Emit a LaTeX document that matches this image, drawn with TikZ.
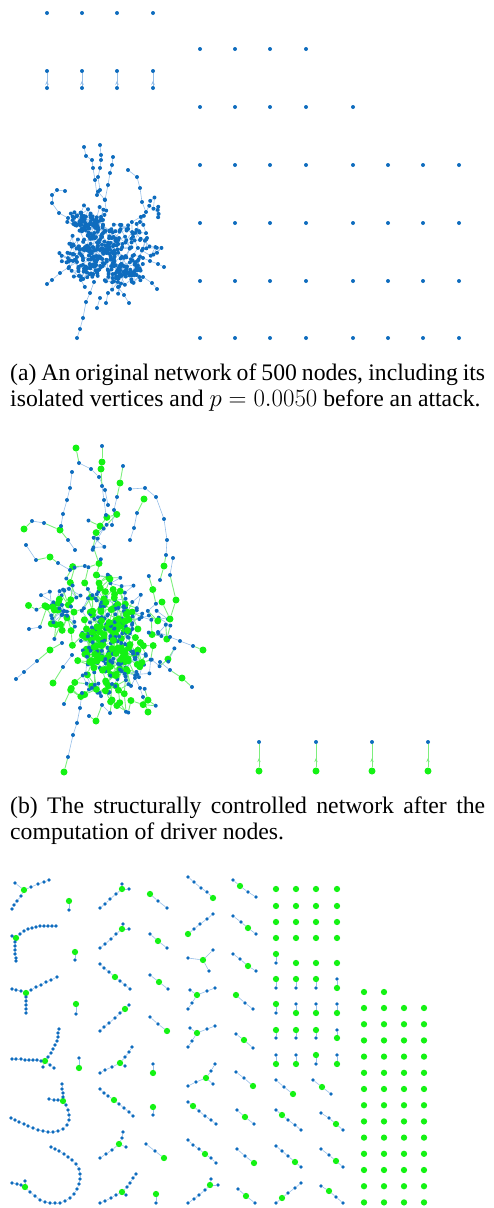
\documentclass[tikz,border=0pt]{standalone}
\usepackage{fontspec}
\setmainfont{Liberation Serif}
\usetikzlibrary{backgrounds,arrows.meta,decorations.markings}
\definecolor{nblue}{RGB}{14,108,190}
\definecolor{ngreen}{RGB}{20,242,20}
\definecolor{eblue}{RGB}{150,190,232}
\definecolor{egreen}{RGB}{125,238,125}
\newcommand\capfont{\fontsize{23.7}{26}\selectfont}
\def\gedges{0}
\def\pcl{b}
\def\edgelist{}
\newcommand\addedge[3]{\xdef\edgelist{\unexpanded\expandafter{\edgelist}\noexpand\draw[#1] (#2) -- (#3);}}
% chain starting at an existing node
\newcommand\arm[3]{%
  \xdef\pcl{b}%
  \foreach \x/\y/\cl [count=\ii] in {#3}{%
    \node[n\cl] (#1-\ii) at (\x,\y) {};%
    \pgfmathtruncatemacro\jj{\ii-1}%
    \ifnum\ii=1 \def\prv{#2}\else\edef\prv{#1-\jj}\fi
    \def\es{eb}%
    \ifnum\gedges=1 \if g\cl\def\es{eg}\fi\if g\pcl\def\es{eg}\fi\fi
    \addedge{\es}{\prv}{#1-\ii}%
    \xdef\pcl{\cl}%
  }}
% standalone chain
\newcommand\chn[2]{%
  \xdef\pcl{b}%
  \foreach \x/\y/\cl [count=\ii] in {#2}{%
    \node[n\cl] (#1-\ii) at (\x,\y) {};%
    \ifnum\ii>1
      \pgfmathtruncatemacro\jj{\ii-1}%
      \def\es{eb}%
      \ifnum\gedges=1 \if g\cl\def\es{eg}\fi\if g\pcl\def\es{eg}\fi\fi
      \addedge{\es}{#1-\jj}{#1-\ii}%
    \fi
    \xdef\pcl{\cl}%
  }}
% random walk cluster
\newcommand\rw[4]{%
  \xdef\wx{#2}\xdef\wy{#3}\xdef\wg{0}%
  \node[nb] (#1-0) at (\wx,\wy) {};%
  \foreach \k in {1,...,#4}{%
    \pgfmathtruncatemacro\km{\k-1}%
    \pgfmathsetmacro\ang{360*rnd}%
    \pgfmathsetmacro\nx{\wx+\sx*cos(\ang)+\pull*(\cx-\wx)}%
    \pgfmathsetmacro\ny{\wy+\sy*sin(\ang)+\pull*(\cy-\wy)}%
    \pgfmathtruncatemacro\isg{rnd<\pg}%
    \ifnum\isg=1 \node[ng] (#1-\k) at (\nx,\ny) {};\else \node[nb] (#1-\k) at (\nx,\ny) {};\fi
    \pgfmathtruncatemacro\egf{\isg+\wg}%
    \ifnum\egf>0 \addedge{eg}{#1-\km}{#1-\k}\else \addedge{eb}{#1-\km}{#1-\k}\fi
    \xdef\wx{\nx}\xdef\wy{\ny}\xdef\wg{\isg}%
  }}
\begin{document}
\begin{tikzpicture}[x=1pt,y=-1pt,
  nb/.style={circle,fill=nblue,draw=none,inner sep=0pt,minimum size=4pt},
  ng/.style={circle,fill=ngreen,draw=none,inner sep=0pt,minimum size=7pt},
  eb/.style={draw=eblue,line width=0.6pt},
  eg/.style={draw=egreen,line width=0.9pt},
  upmark/.style={postaction={decorate},decoration={markings,
     mark=at position 0.4 with {\arrow{Stealth[length=4pt,width=3.5pt]}}}},
  captext/.style={anchor=base west,inner sep=0pt,font=\capfont}]
\useasboundingbox (0,0) rectangle (494,1208);
\pgfmathsetseed{20}

% ---------------- panel (a) ----------------
\foreach \x [count=\ii] in {47,82,117,153}{
  \node[nb] (ai\ii) at (\x,13) {};
  \node[nb] (apt\ii) at (\x,71) {};
  \node[nb] (apb\ii) at (\x,88) {};
  \addedge{eb,upmark}{apb\ii}{apt\ii}
}
\foreach \y [count=\rr] in {49,107,165,223,281,338}{
  \foreach \x [count=\cc] in {200,235,270,306,353,388,423,459}{
    \pgfmathtruncatemacro\ok{(\rr==1 && \cc<5) || (\rr==2 && \cc<6) || \rr>2}
    \ifnum\ok=1 \node[nb] (ag\rr-\cc) at (\x,\y) {};\fi
  }}
\def\cx{104}\def\cy{248}\def\sx{8}\def\sy{9}\def\pull{0.045}\def\pg{0}
\foreach \w in {1,...,18}{
  \pgfmathsetmacro\sxo{\cx+38*(rnd+rnd+rnd-1.5)}
  \pgfmathsetmacro\syo{\cy+48*(rnd+rnd+rnd-1.5)}
  \rw{A\w}{\sxo}{\syo}{24}
}
\chn{ta1}{77/338/b,80/329/b,83/318/b,86/302/b,90/293/b,94/282/b}
\chn{ta2}{47/284/b,52/280/b,60/273/b,69/267/b,77/262/b}
\chn{ta3}{164/267/b,158/264/b,150/261/b,143/258/b,134/255/b}
\chn{ta4}{157/289/b,152/283/b,143/277/b,134/272/b}
\chn{ta5}{84/147/b,86/156/b,92/160/b,93/168/b,95/180/b,97/195/b}
\chn{ta6}{100/145/b,101/155/b,101/160/b,100/168/b,98/177/b,100/190/b}
\chn{ta7}{113/157/b,112/165/b,110/173/b,108/185/b,105/200/b}
\chn{ta8}{65/191/b,57/190/b,52/195/b,52/203/b,59/213/b,68/218/b,75/225/b}
\chn{ta9}{97/308/b,100/298/b}
\chn{ta10}{129/303/b,124/295/b,118/287/b}
\chn{ta11}{128/170/b,137/177/b,140/188/b,142/202/b,146/212/b,140/222/b}
\chn{ta12}{147/238/b,140/240/b}
\chn{ta13}{106/303/b,108/293/b}

\node[captext] (capa1) at (10,380) {\hbox to 475pt{(a) An original network of 500 nodes, including its}};
\node[captext] (capa2) at (10,406) {isolated vertices and $p=0.0050$ before an attack.};

% ---------------- panel (b) ----------------
\def\cx{108}\def\cy{622}\def\sx{11}\def\sy{15}\def\pull{0.035}\def\pg{0.42}\def\gedges{1}
\foreach \w in {1,...,16}{
  \pgfmathsetmacro\sxo{\cx+60*(rnd+rnd+rnd-1.5)}
  \pgfmathsetmacro\syo{\cy+95*(rnd+rnd+rnd-1.5)}
  \rw{B\w}{\sxo}{\syo}{26}
}
\chn{tb1}{76/448/g,79/463/b,91/469/b,99/477/b,105/490/b,108/505/b}
\chn{tb2}{102/446/b,102/462/g,101/469/g,102/486/b,104/500/b,106/515/b}
\chn{tb3}{123/466/b,120/483/g,117/497/b,114/510/b,112/525/b}
\chn{tb4}{24/529/g,32/521/b,44/523/b,60/530/g,68/540/b,75/550/b}
\chn{tb5}{26/545/b,36/560/b,50/557/g,58/563/b,70/570/b}
\chn{tb6}{72/472/b,70/488/b,67/500/b,63/514/b,61/526/b}
\chn{tb7}{130/489/b,145/488/b,156/497/b,164/519/b,167/540/b,166/555/b,164/566/g,160/580/b}
\chn{tb8}{144/499/g,137/513/b,134/528/b,130/540/b}
\chn{tb9}{16/679/b,24/672/b,37/661/b,50/650/g,62/643/b}
\chn{tb10}{64/772/g,68/757/b,73/735/b,77/723/b,80/708/b,82/693/b}
\chn{tb11}{203/650/g,193/646/b,180/641/b,170/637/b,158/632/b}
\chn{tb12}{192/687/b,182/678/g,170/670/b,160/662/b}
\chn{tb13}{148/712/g,143/697/b,140/688/b,135/678/b}
\chn{tb14}{53/683/g,63/667/b,72/655/b}
\chn{tb15}{29/629/b,40/627/b,47/607/g,53/607/g,62/605/b}
\chn{tb16}{89/716/b,96/721/g,102/705/b,110/713/b,112/700/g}
\chn{tb17}{173/558/b,170/575/b,176/600/g,170/619/g,162/602/g}
\foreach \x [count=\ii] in {259,316,372,428}{
  \node[nb] (bpt\ii) at (\x,742) {};
  \node[ng] (bpb\ii) at (\x,771) {};
  \addedge{eg,upmark}{bpb\ii}{bpt\ii}
}
\node[captext] (capb1) at (10,813) {\hbox to 475pt{(b) The structurally controlled network after the}};
\node[captext] (capb2) at (10,839) {computation of driver nodes.};

% ---------------- panel (c) ----------------
\def\gedges{0}
\begin{scope}[nb/.style={circle,fill=nblue,draw=none,inner sep=0pt,minimum size=3.8pt},
  ng/.style={circle,fill=ngreen,draw=none,inner sep=0pt,minimum size=6.3pt}]
% column 1
\node[ng] (c1) at (24,890) {};
\arm{c1a}{c1}{15/883/b}
\arm{c1b}{c1}{31/887/b,38/884/b,44/882/b,49/880/b}
\arm{c1c}{c1}{21/896/b,17/901/b,14/905/b,12/909/b}
\node[ng] (c2) at (16,938) {};
\arm{c2a}{c2}{12/936/b}
\arm{c2b}{c2}{20/934/b,24/931/b,28/929/b,32/928/b,36/927/b,40/926/b,44/926/b,48/926/b,52/926/b,56/926/b}
\arm{c2c}{c2}{15/942/b,15/946/b,15/950/b,15/954/b,16/958/b,16/961/b}
\node[ng] (c3) at (26,993) {};
\arm{c3a}{c3}{21/991/b,16/990/b,12/989/b}
\arm{c3b}{c3}{31/990/b,36/987/b,41/985/b,46/982/b,51/980/b,57/977/b}
\arm{c3c}{c3}{26/997/b,26/1001/b,26/1005/b,26/1009/b,26/1013/b}
\node[ng] (c4) at (45,1061) {};
\arm{c4a}{c4}{41/1061/b,37/1060/b,33/1060/b,29/1060/b,25/1060/b,21/1059/b,16/1059/b,12/1059/b}
\arm{c4b}{c4}{48/1057/b,51/1053/b,53/1049/b,55/1045/b,57/1041/b,58/1037/b,58/1033/b,59/1029/b}
\arm{c4c}{c4}{43/1067/b}
\arm{c4d}{c4}{50/1065/b,54/1068/b}
\node[ng] (c5) at (63,1101) {};
\arm{c5a}{c5}{58/1100/b,54/1100/b,49/1099/b}
\arm{c5b}{c5}{63/1097/b,63/1093/b,62/1089/b,62/1084/b}
\arm{c5c}{c5}{66/1105/b,68/1110/b,69/1115/b,69/1120/b,67/1125/b,63/1129/b,58/1131/b,53/1132/b,48/1132/b,43/1131/b,38/1130/b,33/1128/b,28/1126/b,24/1124/b,19/1122/b,15/1120/b,11/1118/b}
\node[ng] (c6) at (25,1187) {};
\arm{c6a}{c6}{21/1185/b,17/1184/b,12/1183/b}
\arm{c6b}{c6}{25/1181/b}
\arm{c6c}{c6}{30/1192/b,35/1196/b,40/1200/b,45/1202/b,50/1203/b,55/1203/b,60/1203/b,65/1201/b,70/1198/b,74/1194/b,77/1189/b,79/1184/b,80/1179/b,80/1174/b,79/1169/b,76/1164/b,72/1160/b,68/1157/b,64/1154/b,59/1151/b,55/1149/b,51/1147/b}
% column 2
\chn{p1}{69/901/g,69/910/b}
\chn{p2}{75/952/g,75/960/b}
\chn{p3}{76/1004/g,76/1014/b}
\chn{p4}{79/1058/b,79/1068/g}
% column 3
\node[ng] (s1) at (122,889) {};
\arm{s1a}{s1}{122/884/b}\arm{s1b}{s1}{129/889/b}\arm{s1c}{s1}{116/894/b,110/899/b,105/904/b,100/908/b}
\node[ng] (s2) at (122,929) {};
\arm{s2a}{s2}{123/924/b}\arm{s2b}{s2}{129/929/b}\arm{s2c}{s2}{116/934/b,111/939/b,105/944/b,100/948/b}
\node[ng] (s3) at (115,977) {};
\arm{s3a}{s3}{109/972/b,104/968/b,100/964/b}\arm{s3b}{s3}{120/981/b,125/985/b,130/989/b}
\node[ng] (s4) at (125,1009) {};
\arm{s4a}{s4}{129/1005/b}\arm{s4b}{s4}{120/1013/b,115/1018/b,109/1023/b,104/1027/b,100/1031/b}
\node[ng] (s5) at (120,1063) {};
\arm{s5a}{s5}{125/1057/b,129/1052/b,132/1047/b}\arm{s5b}{s5}{125/1066/b}\arm{s5c}{s5}{112/1067/b,105/1070/b,100/1073/b}
\node[ng] (s6) at (114,1100) {};
\arm{s6a}{s6}{108/1096/b,104/1093/b,100/1089/b}\arm{s6b}{s6}{119/1104/b,124/1108/b,129/1112/b,133/1116/b}
\node[ng] (s7) at (119,1144) {};
\arm{s7a}{s7}{122/1138/b,123/1132/b}\arm{s7b}{s7}{126/1147/b}\arm{s7c}{s7}{112/1150/b,106/1154/b,100/1158/b}
\node[ng] (s8) at (122,1192) {};
\arm{s8a}{s8}{127/1187/b,130/1183/b,133/1178/b,136/1174/b}\arm{s8b}{s8}{126/1195/b}\arm{s8c}{s8}{116/1195/b,111/1198/b,105/1201/b,100/1203/b}
% column 4
\chn{t1}{150/894/g,158/901/b,167/908/b}
\chn{t2}{150/934/b,158/941/g,167/948/b}
\chn{t3}{150/975/b,159/982/g,168/989/b}
\chn{t4}{150/1017/b,158/1024/b,167/1031/g}
\chn{t5}{153/1064/b,153/1073/g}
\chn{t6}{153/1107/g,153/1115/b}
\chn{t7}{146/1144/b,155/1151/b,164/1158/g}
\chn{t8}{156/1194/g,156/1203/b}
% column 5
\chn{u1}{188/877/b,194/882/b,201/888/b,207/892/b,213/898/g}
\chn{u2}{213/914/b,207/919/b,200/924/b,194/929/b,188/934/g}
\node[ng] (u3) at (203,960) {};
\arm{u3a}{u3}{188/958/b}\arm{u3b}{u3}{213/950/b}\arm{u3c}{u3}{209/971/b}
\node[ng] (u4) at (197,995) {};
\arm{u4a}{u4}{190/990/b}\arm{u4b}{u4}{207/991/b,215/988/b}\arm{u4c}{u4}{192/1003/b,188/1009/b}
\node[ng] (u5) at (197,1033) {};
\arm{u5a}{u5}{190/1028/b}\arm{u5b}{u5}{207/1029/b,215/1026/b}\arm{u5c}{u5}{192/1041/b,188/1047/b}
\node[ng] (u6) at (206,1078) {};
\arm{u6a}{u6}{211/1071/b,215/1064/b}\arm{u6b}{u6}{213/1084/b}\arm{u6c}{u6}{196/1082/b,188/1086/b}
\chn{u7}{188/1102/b,193/1106/g,199/1111/b,205/1116/b,211/1120/b,216/1124/b}
\chn{u8}{188/1140/b,193/1145/b,199/1149/b,205/1154/g,211/1158/b,216/1163/b}
\node[ng] (u9) at (210,1185) {};
\arm{u9a}{u9}{211/1179/b}\arm{u9b}{u9}{218/1185/b}\arm{u9c}{u9}{205/1190/b,199/1195/b,194/1199/b,188/1203/b}
% column 6
\chn{v1}{233/880/b,240/886/g,248/892/b,256/897/b}
\chn{v2}{233/916/b,241/922/b,248/928/g,256/934/b}
\chn{v3}{233/954/b,240/959/b,248/966/g,256/971/b}
\chn{v4}{236/995/g,245/1003/b,253/1009/b}
\chn{v5}{236/1034/b,244/1040/g,253/1048/b}
\chn{v6}{236/1072/b,244/1078/b,253/1086/g}
\chn{v7}{237/1110/b,245/1117/g,254/1124/b}
\chn{v8}{237/1149/b,245/1156/b,254/1163/g}
\chn{v9}{238/1189/b,246/1196/g,255/1203/b}
% column 7: isolated and pairs
\foreach \y [count=\rr] in {889,906,922,938}{
  \foreach \x [count=\cc] in {276,296,316,337}{ \node[ng] (g7-\rr-\cc) at (\x,\y) {}; }}
\chn{q0}{276/954/g,276/963/b}
\node[ng] (g7s2) at (296,963) {};
\node[ng] (g7s3) at (316,963) {};
\node[ng] (g7s4) at (337,963) {};
\chn{qa1}{276/979/g,276/988/b}\chn{qa2}{296/979/g,296/988/b}\chn{qa3}{316/979/g,316/988/b}\chn{qa4}{337/979/b,337/988/g}
\chn{qb1}{276/1004/g,276/1013/b}\chn{qb2}{296/1004/b,296/1013/g}\chn{qb3}{316/1004/b,316/1013/g}\chn{qb4}{337/1004/b,337/1013/g}
\chn{qc1}{276/1030/g,276/1038/b}\chn{qc2}{296/1030/g,296/1038/b}\chn{qc3}{316/1030/g,316/1038/b}\chn{qc4}{337/1030/b,337/1038/g}
\chn{qd1}{276/1055/b,276/1064/g}\chn{qd2}{296/1055/b,296/1064/g}\chn{qd3}{316/1055/g,316/1064/b}\chn{qd4}{337/1055/b,337/1064/g}
\chn{w1}{276/1080/b,284/1087/b,293/1094/g}
\chn{w2}{313/1080/b,322/1087/g,331/1094/b}
\chn{w3}{276/1110/b,282/1115/g,288/1120/b,295/1125/b,301/1130/b}
\chn{w4}{321/1113/b,329/1118/b,336/1124/g,343/1130/b}
\chn{w5}{276/1146/b,282/1151/b,288/1156/b,295/1162/g,301/1167/b}
\chn{w6}{321/1149/b,329/1155/b,336/1161/g,343/1167/b}
\chn{w7}{276/1203/b,282/1198/g,288/1193/b,295/1188/b,301/1183/b}
\chn{w8}{321/1186/b,329/1191/g,336/1197/b,343/1203/b}
% column 8: isolated driver nodes
\node[ng] (g8a) at (364,992) {};
\node[ng] (g8b) at (384,992) {};
\foreach \rr in {0,...,12}{
  \foreach \x [count=\cc] in {364,384,404,424}{
    \node[ng] (g8-\rr-\cc) at (\x,{1008+16.2*\rr}) {}; }}
\end{scope}
% all connectors, drawn once beneath the nodes
\begin{pgfonlayer}{background}
\edgelist
\end{pgfonlayer}
\end{tikzpicture}
\end{document}
